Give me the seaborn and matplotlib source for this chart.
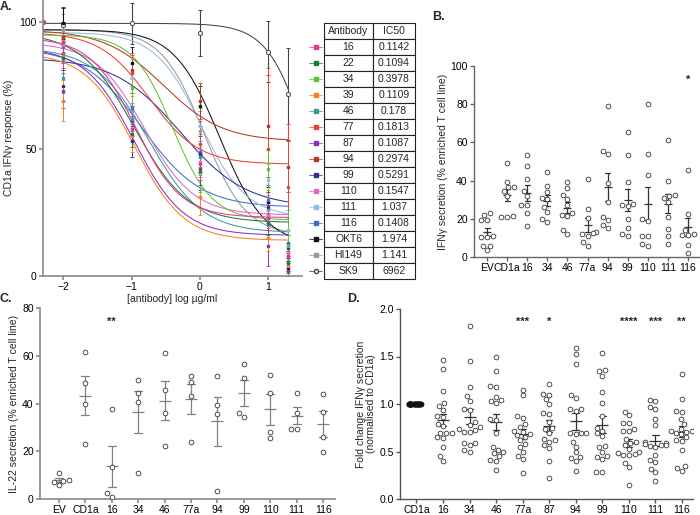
import numpy as np
import pandas as pd
import matplotlib
matplotlib.use("Agg")
import matplotlib.pyplot as plt
import seaborn as sns

## ---- panel A: dose response (mean, SD at each log conc) ----
log_conc = [-2.3, -2.0, -1.0, 0.0, 1.0, 1.3]
antibodies = ["16", "22", "34", "39", "46", "77", "87", "94", "99", "110",
              "111", "116", "OKT6", "HI149", "SK9"]
ic50_text = ["0.1142", "0.1094", "0.3978", "0.1109", "0.178", "0.1813", "0.1087",
             "0.2974", "0.5291", "0.1547", "1.037", "0.1408", "1.974", "1.141", "6962"]
ab_colors = ["#e8358d", "#1e7b3e", "#5cc431", "#f4821f", "#3a98a3", "#ea4431", "#8a2fc8",
             "#b2382e", "#2e3190", "#e067c6", "#90bce8", "#3e6fcb", "#111111", "#999999", "#444444"]

resp_16 = [100, 88, 58, 44, 23, 8]
resp_22 = [100, 86, 56, 42, 21, 5]
resp_34 = [100, 87, 74, 40, 42, 12]
resp_39 = [100, 69, 55, 31, 15, 4]
resp_46 = [100, 78, 62, 47, 20, 6]
resp_77 = [100, 92, 80, 52, 50, 35]
resp_87 = [100, 73, 61, 41, 12, 2]
resp_94 = [100, 94, 81, 69, 59, 43]
resp_99 = [100, 75, 53, 48, 27, 11]
resp_110 = [100, 91, 58, 45, 24, 9]
resp_111 = [100, 92, 78, 59, 38, 18]
resp_116 = [100, 90, 66, 49, 30, 13]
resp_okt6 = [100, 99.5, 84, 67, 29, 3]
resp_hi149 = [100, 97, 65, 57, 26, 6]
resp_sk9 = [100, 99, 99.5, 95.8, 88.3, 71.7]

sd_16 = [0, 6, 5, 6, 5, 4]
sd_22 = [0, 5, 5, 6, 5, 4]
sd_34 = [0, 6, 6, 7, 8, 14]
sd_39 = [0, 8, 6, 7, 5, 4]
sd_46 = [0, 6, 5, 6, 5, 4]
sd_77 = [0, 8, 8, 9, 32, 25]
sd_87 = [0, 7, 6, 7, 8, 4]
sd_94 = [0, 6, 6, 7, 20, 10]
sd_99 = [0, 6, 6, 7, 6, 5]
sd_110 = [0, 6, 5, 6, 5, 4]
sd_111 = [0, 6, 6, 7, 6, 5]
sd_116 = [0, 6, 6, 7, 6, 5]
sd_okt6 = [0, 6, 6, 8, 6, 4]
sd_hi149 = [0, 6, 6, 8, 6, 4]
sd_sk9 = [0, 7, 8, 9, 12, 18]

## fitted 4PL curve parameters (top, bottom, log midpoint, hill)
fit_top = [94, 96, 95, 88, 90, 96, 90, 97, 86, 92, 96, 90, 97, 97, 99.5]
fit_bottom = [23, 21, 22, 14, 17, 44, 16, 53, 27, 24, 23, 27, 12, 16, 0]
fit_mid = [-0.94, -0.96, -0.40, -0.955, -0.75, -0.74, -0.96, -0.53, -0.28, -0.81,
           0.016, -0.85, 0.295, 0.057, 1.6]
fit_hill = [1.3, 1.1, 1.5, 1.2, 1.1, 1.2, 1.2, 1.0, 0.9, 1.2, 1.3, 1.0, 1.3, 1.4, 1.5]

resp_all = [resp_16, resp_22, resp_34, resp_39, resp_46, resp_77, resp_87, resp_94,
            resp_99, resp_110, resp_111, resp_116, resp_okt6, resp_hi149, resp_sk9]
sd_all = [sd_16, sd_22, sd_34, sd_39, sd_46, sd_77, sd_87, sd_94,
          sd_99, sd_110, sd_111, sd_116, sd_okt6, sd_hi149, sd_sk9]

## ---- panel B: IFNy secretion ----
b_groups = ["EV", "CD1a", "16", "34", "46", "77a", "94", "99", "110", "111", "116"]
b_ev = [22, 23, 19.5, 19.5, 11, 10.5, 10.5, 6, 5.5, 3.5]
b_cd1a = [49, 39.5, 34.5, 36.5, 32, 36.5, 21.5, 21, 21]
b_16 = [53.5, 47.4, 41, 34.4, 32, 27.4, 27.4, 22.8, 16.1]
b_34 = [44.4, 37, 34, 31, 30.5, 26, 23.5, 20, 18.5]
b_46 = [39.5, 36, 32.5, 30.5, 27, 23, 22, 21.5, 14, 12]
b_77a = [41, 25, 20.5, 13, 12.5, 12, 11, 8, 6]
b_94 = [79, 55.5, 54, 39, 29, 21, 19.5, 17, 15]
b_99 = [65.5, 53.5, 39.5, 28, 27, 26.5, 20, 15, 12, 11]
b_110 = [80, 54, 43, 20, 19, 11, 11, 7, 6]
b_111 = [61, 40, 32.5, 32, 31, 29, 21, 14.5, 11, 7]
b_116 = [45.5, 22.5, 14, 12, 11.5, 11.5, 6.5, 2]

## ---- panel C: IL-22 secretion ----
c_groups = ["EV", "CD1a", "16", "34", "46", "77a", "94", "99", "110", "111", "116"]
c_ev = [10.7, 7.9, 7.5, 7.2, 6.0]
c_cd1a = [61.5, 48.5, 40, 23]
c_16 = [37.5, 13.5, 2.5, 1]
c_34 = [50, 44.5, 40.5, 11]
c_46 = [61, 45.5, 36, 22]
c_77a = [51.5, 49, 43, 24]
c_94 = [51.5, 39.5, 35.5, 3.5]
c_99 = [56.5, 50.5, 36, 34.5]
c_110 = [52, 44.5, 28, 25.5]
c_111 = [44.5, 36, 29.5, 29.5]
c_116 = [44, 36.5, 26, 19.5]

## ---- panel D: fold change normalised to CD1a ----
d_groups = ["CD1a", "16", "34", "46", "77a", "87", "94", "99", "110", "111", "116"]
d_cd1a = [1.0, 1.0, 1.0, 1.0, 1.0, 1.0, 1.0, 1.0, 1.0, 1.0,
          1.0, 1.0, 1.0, 1.0, 1.0, 1.0, 1.0, 1.0, 1.0, 1.0]
d_16 = [1.46, 1.37, 1.14, 1.01, 0.98, 0.94, 0.87, 0.86, 0.79, 0.77, 0.70, 0.69,
        0.69, 0.65, 0.64, 0.55, 0.45, 0.40]
d_34 = [1.82, 1.45, 1.18, 1.08, 1.03, 0.95, 0.94, 0.81, 0.78, 0.76, 0.74, 0.73,
        0.71, 0.71, 0.59, 0.59, 0.57, 0.52, 0.50]
d_46 = [1.50, 1.35, 1.19, 1.18, 1.07, 1.04, 1.03, 1.01, 0.84, 0.83, 0.70, 0.55,
        0.52, 0.49, 0.48, 0.45, 0.41, 0.40, 0.31]
d_77a = [1.15, 1.09, 0.87, 0.85, 0.79, 0.76, 0.72, 0.71, 0.68, 0.67, 0.65, 0.62,
         0.58, 0.55, 0.50, 0.45, 0.42, 0.27]
d_87 = [1.21, 1.11, 1.10, 1.05, 1.00, 0.91, 0.90, 0.81, 0.75, 0.74, 0.70, 0.63,
        0.62, 0.60, 0.57, 0.54, 0.40, 0.22]
d_94 = [1.59, 1.53, 1.42, 1.10, 1.06, 0.95, 0.95, 0.93, 0.70, 0.70, 0.69, 0.68,
        0.60, 0.55, 0.49, 0.44, 0.43, 0.40, 0.30]
d_99 = [1.54, 1.36, 1.35, 1.30, 1.13, 1.01, 0.87, 0.75, 0.72, 0.69, 0.66, 0.56,
        0.55, 0.50, 0.45, 0.44, 0.42, 0.28, 0.28]
d_110 = [0.92, 0.88, 0.80, 0.80, 0.74, 0.72, 0.72, 0.63, 0.60, 0.59, 0.57, 0.53,
         0.50, 0.48, 0.47, 0.46, 0.46, 0.38, 0.34, 0.15]
d_111 = [1.04, 1.03, 0.97, 0.95, 0.84, 0.78, 0.60, 0.59, 0.58, 0.57, 0.57, 0.56,
         0.55, 0.46, 0.41, 0.39, 0.32, 0.28, 0.19]
d_116 = [1.32, 1.05, 0.93, 0.92, 0.84, 0.79, 0.74, 0.72, 0.72, 0.71, 0.70, 0.68,
         0.65, 0.62, 0.61, 0.52, 0.35, 0.33, 0.30]

b_stars = {"116": "*"}
c_stars = {"16": "**"}
d_stars = {"77a": "***", "87": "*", "110": "****", "111": "***", "116": "**"}


def longform(groups, lists):
    rows = []
    for g, vals in zip(groups, lists):
        for v in vals:
            rows.append((g, v))
    return pd.DataFrame(rows, columns=["group", "value"])


sns.set_theme(style="ticks")
plt.rcParams["font.family"] = ["Liberation Sans", "DejaVu Sans"]
plt.rcParams["font.size"] = 7.5

fig = plt.figure(figsize=(7, 5.15), dpi=100)
W, H = 700.0, 515.0


def rect(x0, y0, x1, y1):
    return [x0 / W, 1 - y1 / H, (x1 - x0) / W, (y1 - y0) / H]


def style_axis(ax, col, lw=1.0):
    sns.despine(ax=ax)
    for s in ["left", "bottom"]:
        ax.spines[s].set_color(col)
        ax.spines[s].set_linewidth(lw)
    ax.tick_params(colors=col, labelcolor="black", labelsize=7.5, length=3, width=lw, pad=1.5)


## ---------------- A ----------------
axA = fig.add_axes(rect(43, 0.5, 302, 276))
xs = np.linspace(-2.3, 1.3, 200)
order = list(range(len(antibodies)))[::-1]
for i in order:
    col = ab_colors[i]
    yfit = fit_bottom[i] + (fit_top[i] - fit_bottom[i]) / (1 + 10 ** ((xs - fit_mid[i]) * fit_hill[i]))
    sns.lineplot(x=xs, y=yfit, color=col, lw=0.75, ax=axA)
    if antibodies[i] == "SK9":
        axA.errorbar(log_conc, resp_all[i], yerr=sd_all[i], fmt="o", ms=3, mfc="white",
                     mec="#444444", mew=0.7, ecolor="#444444", elinewidth=0.8, capsize=1.5)
    else:
        axA.errorbar(log_conc, resp_all[i], yerr=sd_all[i], fmt="s", ms=1.8, color=col,
                     elinewidth=0.7, capsize=1.3, capthick=0.6)
axA.set_xlim(-2.3, 1.5)
axA.set_ylim(0, 108.5)
axA.set_xticks([-2, -1, 0, 1])
axA.set_yticks([0, 50, 100])
axA.set_xlabel("[antibody] log \u00b5g/ml", fontsize=7.5, labelpad=1)
axA.set_ylabel("CD1a IFN\u03b3 response (%)", fontsize=7.5, labelpad=4)
style_axis(axA, "#8a8a8a", 1.2)

## table with legend markers
axT = fig.add_axes(rect(324, 23, 415, 279))
axT.set_xlim(0, 1)
axT.set_ylim(0, 1)
axT.axis("off")
cells = [[a, v] for a, v in zip(antibodies, ic50_text)]
tab = axT.table(cellText=cells, colLabels=["Antibody", "IC50"], cellLoc="center",
                bbox=[0, 0, 1, 1], colWidths=[49, 42])
tab.auto_set_font_size(False)
tab.set_fontsize(7.5)
for _, c in tab.get_celld().items():
    c.set_linewidth(0.8)
    c.set_edgecolor("#222222")
nrow = len(antibodies) + 1
for i, a in enumerate(antibodies):
    yc = 1 - (i + 1.5) / nrow
    if a == "SK9":
        axT.plot([-0.16, -0.02], [yc, yc], color="#777777", lw=0.8, clip_on=False)
        axT.plot([-0.09], [yc], marker="o", ms=3, mfc="white", mec="#444444", clip_on=False)
    else:
        axT.plot([-0.16, -0.02], [yc, yc], color=ab_colors[i], lw=0.8, clip_on=False, alpha=0.7)
        axT.plot([-0.09], [yc], marker="s", ms=2.5, color=ab_colors[i], clip_on=False)


def scatter_panel(ax, df, groups, cap, meanw, errcol, dense=None):
    swarm_df = df if dense is None else df[df.group != dense]
    sns.swarmplot(data=swarm_df, x="group", y="value", order=groups, ax=ax, size=3.4,
                  color="white", edgecolor="#333333", linewidth=0.6, warn_thresh=1)
    if dense is not None:
        ## identical values: GraphPad piles them into a solid bar
        sns.stripplot(data=df[df.group == dense], x="group", y="value", order=groups, ax=ax,
                      size=3.6, jitter=0.27, color="#111111", edgecolor="#111111",
                      linewidth=0.6)
    sns.pointplot(data=df, x="group", y="value", order=groups, ax=ax, errorbar="se",
                  linestyle="none", marker="_", markersize=meanw, markeredgewidth=0.9,
                  capsize=cap, color=errcol, err_kws={"linewidth": 0.9})
    ax.set_xlabel("")


## ---------------- B ----------------
axB = fig.add_axes(rect(474, 66, 700, 257))
dfB = longform(b_groups, [b_ev, b_cd1a, b_16, b_34, b_46, b_77a, b_94, b_99, b_110, b_111, b_116])
scatter_panel(axB, dfB, b_groups, 0.25, 6, "#333333")
axB.set_xlim(-0.65, 10.6)
axB.set_ylim(0, 100)
axB.set_yticks([0, 20, 40, 60, 80, 100])
axB.set_ylabel("IFN\u03b3 secretion (% enriched T cell line)", fontsize=7.5, labelpad=2)
style_axis(axB, "#666666")
for g, s in b_stars.items():
    axB.text(b_groups.index(g), 93, s, ha="center", va="center", fontsize=8, fontweight="bold")

## ---------------- C ----------------
axC = fig.add_axes(rect(40, 308, 335, 499))
dfC = longform(c_groups, [c_ev, c_cd1a, c_16, c_34, c_46, c_77a, c_94, c_99, c_110, c_111, c_116])
scatter_panel(axC, dfC, c_groups, 0.3, 9, "#808080")
axC.set_xlim(-0.72, 10.45)
axC.set_ylim(0, 80)
axC.set_yticks([0, 20, 40, 60, 80])
axC.set_ylabel("IL-22 secretion (% enriched T cell line)", fontsize=7.5, labelpad=2)
style_axis(axC, "#8a8a8a", 1.2)
for g, s in c_stars.items():
    axC.text(c_groups.index(g), 74, s, ha="center", va="center", fontsize=8, fontweight="bold")

## ---------------- D ----------------
axD = fig.add_axes(rect(400, 309, 693, 499))
dfD = longform(d_groups, [d_cd1a, d_16, d_34, d_46, d_77a, d_87, d_94, d_99, d_110, d_111, d_116])
scatter_panel(axD, dfD, d_groups, 0.25, 8, "#333333", dense="CD1a")
axD.set_xlim(-0.62, 10.42)
axD.set_ylim(0, 2)
axD.set_yticks([0, 0.5, 1.0, 1.5, 2.0])
axD.set_yticklabels(["0.0", "0.5", "1.0", "1.5", "2.0"])
axD.set_ylabel("Fold change IFN\u03b3 secretion\n(normalised to CD1a)", fontsize=7.5,
               labelpad=2, linespacing=1.1)
style_axis(axD, "#555555")
for g, s in d_stars.items():
    axD.text(d_groups.index(g), 1.86, s, ha="center", va="center", fontsize=8, fontweight="bold")

## panel letters
fig.text(0.0, 0.998, "A.", fontsize=9, fontweight="bold", va="top")
fig.text(432 / W, 1 - 11 / H, "B.", fontsize=9, fontweight="bold", va="top")
fig.text(0.0, 1 - 293 / H, "C.", fontsize=9, fontweight="bold", va="top")
fig.text(347 / W, 1 - 293 / H, "D.", fontsize=9, fontweight="bold", va="top")

fig.savefig("out.png", dpi=100)
